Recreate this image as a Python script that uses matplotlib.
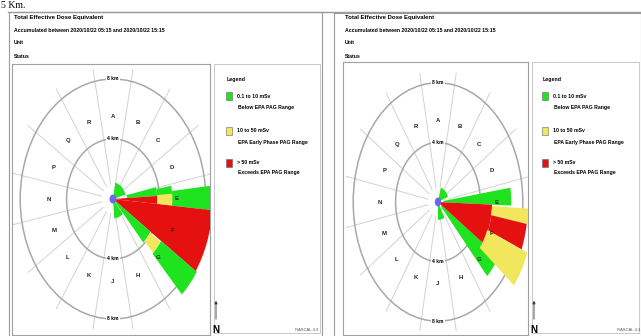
import matplotlib
matplotlib.use("Agg")
import matplotlib.pyplot as plt
from matplotlib.patches import Wedge, Circle, Rectangle, FancyArrowPatch
from matplotlib.lines import Line2D
import numpy as np

W, H = 641, 336

SECTORS = ["A", "B", "C", "D", "E", "F", "G", "H", "J", "K", "L", "M", "N", "P", "Q", "R"]
RINGS_KM = [4, 8]
RING_LABELS = ["4 km", "8 km"]

LEVEL_COLORS = ["#1ee31e", "#f1e65c", "#e51010"]
LEVEL_NAMES = ["0.1 to 10 mSv", "10 to 50 mSv", "> 50 mSv"]
LEVEL_NOTES = ["Below EPA PAG Range", "EPA Early Phase PAG Range", "Exceeds EPA PAG Range"]

TITLE = "Total Effective Dose Equivalent"
SUBTITLE = "Accumulated between 2020/10/22 05:15 and 2020/10/22 15:15"
LINE3 = "Unit"
LINE4 = "Status"

# plume cells: bearing from/to (deg clockwise from north), radius from/to (km), dose level
left_b0 = [10, 140, 78, 80, 84, 86, 87, 95, 124, 125, 124]
left_b1 = [75, 175, 87, 87, 95, 95, 95, 124, 138, 136, 137]
left_r0 = [0.2, 0.2, 1.2, 3.8, 5.1, 3.8, 0.1, 0.1, 0.3, 3.9, 5.0]
left_r1 = [1.1, 1.3, 3.8, 5.1, 10.0, 5.1, 3.8, 8.6, 3.9, 5.0, 8.7]
left_lvl = [0, 0, 0, 0, 0, 1, 2, 2, 0, 1, 0]

right_b0 = [15, 150, 82, 123, 92, 93, 100, 112]
right_b1 = [70, 180, 92, 137, 123, 100, 112, 128]
right_r0 = [0.2, 0.2, 0.5, 0.4, 0.1, 5.1, 5.1, 5.0]
right_r1 = [1.0, 1.2, 6.9, 6.8, 5.1, 9.5, 8.5, 9.1]
right_lvl = [0, 0, 0, 0, 2, 1, 2, 1]

FONT = "Liberation Sans"
plt.rcParams["font.family"] = [FONT, "DejaVu Sans"]

fig = plt.figure(figsize=(W / 100, H / 100), dpi=100)


def fx(x):
    return x / W


def fy(y):
    return 1 - y / H


def frame(x0, y0, x1, y1, color="#9a9a9a", lw=0.8):
    fig.add_artist(Rectangle((fx(x0), fy(y1)), fx(x1 - x0), (y1 - y0) / H,
                             transform=fig.transFigure, fill=False, ec=color, lw=lw))


def panel(px, box, legend_x, b0, b1, r0, r1, lvl, sx, sy, center):
    # header text
    fig.text(fx(px), fy(17), TITLE, fontsize=4.3, weight="bold", va="center")
    fig.text(fx(px), fy(30), SUBTITLE, fontsize=3.7, weight="bold", va="center")
    fig.text(fx(px), fy(43), LINE3, fontsize=3.7, weight="bold", va="center")
    fig.text(fx(px), fy(56), LINE4, fontsize=3.7, weight="bold", va="center")

    x0, y0, x1, y1 = box
    ax = fig.add_axes([fx(x0), fy(y1), fx(x1 - x0), (y1 - y0) / H])
    cx, cy = center
    ax.set_xlim((x0 - cx) / sx, (x1 - cx) / sx)
    ax.set_ylim(-(y1 - cy) / sy, (cy - y0) / sy)
    ax.set_xticks([])
    ax.set_yticks([])
    for s in ax.spines.values():
        s.set_color("#a0a0a0")
        s.set_linewidth(0.8)

    # sector spokes
    for k in range(16):
        b = np.radians(11.25 + 22.5 * k)
        ax.plot([1.0 * np.sin(b), 8.8 * np.sin(b)], [1.0 * np.cos(b), 8.8 * np.cos(b)],
                color="#d2d2d2", lw=0.7, zorder=1)
    for r in RINGS_KM:
        ax.add_patch(Circle((0, 0), r, fill=False, ec="#a8a8a8", lw=1.1, zorder=2))

    # plume
    for a, b, ri, ro, lv in zip(b0, b1, r0, r1, lvl):
        ax.add_patch(Wedge((0, 0), ro, 90 - b, 90 - a, width=ro - ri,
                           fc=LEVEL_COLORS[lv], ec="none", zorder=3))
    ax.add_patch(Circle((0, 0), 0.3, fc="#6a6ae8", ec="none", zorder=4))

    # labels
    for r, lab in zip(RINGS_KM, RING_LABELS):
        for sgn in (1, -1):
            ax.text(0, sgn * r, lab, fontsize=3.6, weight="bold", ha="center", va="center",
                    zorder=5, bbox=dict(fc="white", ec="none", pad=0.6))
    for k, name in enumerate(SECTORS):
        b = np.radians(22.5 * k)
        ax.text(5.5 * np.sin(b), 5.5 * np.cos(b), name, fontsize=4.3, weight="bold",
                ha="center", va="center", color="#222222", zorder=5)

    # legend
    lx = legend_x
    fig.text(fx(lx + 1), fy(80), "Legend", fontsize=3.8, weight="bold", va="center")
    for i, (ys, yt) in enumerate([(92, 97), (127, 131), (159, 162)]):
        fig.add_artist(Rectangle((fx(lx), fy(ys + 8)), fx(6), 8 / H,
                                 transform=fig.transFigure, fc=LEVEL_COLORS[i],
                                 ec="#666666", lw=0.4))
        fig.text(fx(lx + 11), fy(yt), LEVEL_NAMES[i], fontsize=3.7, weight="bold", va="center")
        fig.text(fx(lx + 12), fy(yt + 11), LEVEL_NOTES[i], fontsize=3.7, weight="bold", va="center")
    return ax


# caption of the page above
fig.text(fx(1), fy(1), "5 Km.", fontsize=7, family="Liberation Serif", va="top")

# window frames
fig.add_artist(Line2D([fx(8), fx(641)], [fy(12), fy(12)], transform=fig.transFigure,
                      color="#9a9a9a", lw=1.0))
frame(9, 12, 322, 338)
frame(334, 13, 641, 338)
frame(214, 64, 320, 333, color="#c0c0c0", lw=0.6)
frame(532, 62, 639, 333, color="#c0c0c0", lw=0.6)

panel(14, (12, 64, 210, 335), 226, left_b0, left_b1, left_r0, left_r1, left_lvl,
      11.6, 15.0, (113, 199))
panel(345, (343, 62, 528, 335), 542, right_b0, right_b1, right_r0, right_r1, right_lvl,
      10.6, 14.9, (438, 202))

# north arrows and footers
for nx, foot_x, foot in [(216, 318, "RASCAL 4.3"), (534, 640, "RASCAL 4.3")]:
    fig.add_artist(FancyArrowPatch((fx(nx), fy(322)), (fx(nx), fy(298)),
                                   transform=fig.transFigure, arrowstyle="-|>",
                                   mutation_scale=4, lw=0.6, color="#333333"))
    fig.text(fx(nx), fy(330), "N", fontsize=7, weight="bold", ha="center", va="center")
    fig.text(fx(foot_x), fy(330), foot, fontsize=3, ha="right", va="center", color="#555555")

fig.savefig("out.png", dpi=100)
